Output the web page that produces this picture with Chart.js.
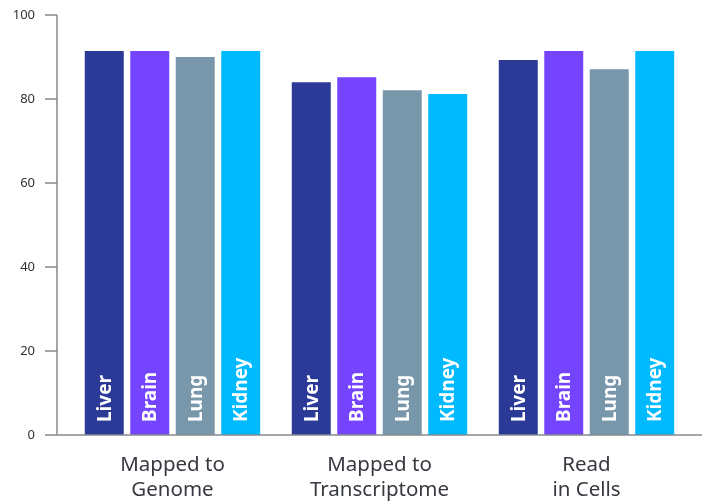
<!DOCTYPE html>
<html>
<head>
<meta charset="utf-8">
<script src="https://cdn.jsdelivr.net/npm/chart.js@4.4.0/dist/chart.umd.min.js"></script>
<style>
  html, body { margin: 0; padding: 0; background: #fff; }
  #wrap { width: 707px; height: 504px; }
</style>
</head>
<body>
<div id="wrap"><canvas id="readsChart"></canvas></div>
<script>
const categories = [["Mapped to", "Genome"], ["Mapped to", "Transcriptome"], ["Read", "in Cells"]];
const tissues = ["Liver", "Brain", "Lung", "Kidney"];
const liver = [91.4, 84.0, 89.3];
const brain = [91.4, 85.2, 91.4];
const lung = [90.0, 82.1, 87.1];
const kidney = [91.4, 81.2, 91.4];
const yTicks = [0, 20, 40, 60, 80, 100];
const colors = ["#2b3a97", "#7544ff", "#7897ab", "#00baff"];

// axis lines sit a bit left of the plot area, so draw them by hand
const axisLines = {
  id: "axisLines",
  afterDatasetsDraw(chart) {
    const { ctx, chartArea, scales } = chart;
    const y = scales.y;
    const axisX = chartArea.left - 12;
    const baseY = y.getPixelForValue(0);
    ctx.save();
    ctx.strokeStyle = "#858a90";
    ctx.lineWidth = 1.5;
    ctx.beginPath();
    ctx.moveTo(axisX, y.getPixelForValue(yTicks[yTicks.length - 1]));
    ctx.lineTo(axisX, baseY);
    ctx.lineTo(chart.width - 5, baseY);
    yTicks.forEach(v => {
      const py = y.getPixelForValue(v);
      ctx.moveTo(axisX - 12, py);
      ctx.lineTo(axisX, py);
    });
    ctx.stroke();
    ctx.restore();
  }
};

// tissue names written up inside each bar
const barNames = {
  id: "barNames",
  afterDatasetsDraw(chart) {
    const { ctx } = chart;
    const baseY = chart.scales.y.getPixelForValue(0);
    ctx.save();
    ctx.fillStyle = "#ffffff";
    ctx.font = "bold 19px 'Noto Sans'";
    ctx.textAlign = "left";
    ctx.textBaseline = "middle";
    chart.data.datasets.forEach((ds, i) => {
      chart.getDatasetMeta(i).data.forEach(bar => {
        ctx.save();
        ctx.translate(bar.x + 1, baseY - 13);
        ctx.rotate(-Math.PI / 2);
        ctx.fillText(ds.label, 0, 0);
        ctx.restore();
      });
    });
    ctx.restore();
  }
};

const ctx = document.getElementById("readsChart").getContext("2d");

const data = {
  labels: categories,
  datasets: [liver, brain, lung, kidney].map((values, i) => ({
    label: tissues[i],
    data: values,
    backgroundColor: colors[i],
    borderWidth: 0,
    categoryPercentage: 0.879,
    barPercentage: 0.857,
  })),
};

const config = {
  type: "bar",
  data: data,
  options: {
    responsive: true,
    maintainAspectRatio: false,
    animation: false,
    layout: {
      padding: { top: 15, right: 17, left: 0, bottom: 0 },
    },
    plugins: {
      legend: { display: false },
      tooltip: { enabled: false },
    },
    scales: {
      x: {
        grid: { display: false, drawTicks: false },
        border: { display: false },
        ticks: {
          padding: 18,
          color: "#363a40",
          font: { family: "'Noto Sans'", size: 20.5, lineHeight: 1.22 },
        },
        afterFit(scale) {
          scale.height = 69;
        },
      },
      y: {
        min: 0,
        max: 100,
        grid: { display: false, drawTicks: false },
        border: { display: false },
        ticks: {
          stepSize: 20,
          padding: 34,
          color: "#2f3237",
          font: { family: "'Noto Sans'", size: 13 },
        },
        afterFit(scale) {
          scale.width = 69;
          scale.paddingTop = 0;
          scale.paddingBottom = 0;
        },
      },
    },
  },
  plugins: [axisLines, barNames],
};

const readsChart = new Chart(ctx, config);
</script>
</body>
</html>
